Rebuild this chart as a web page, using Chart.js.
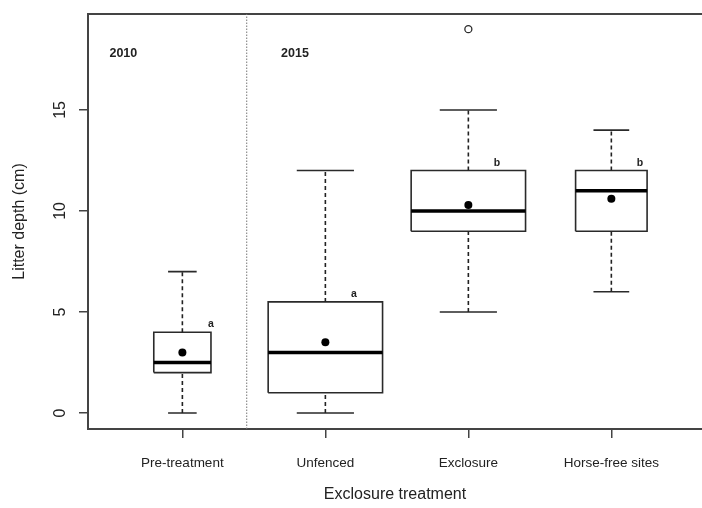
<!DOCTYPE html>
<html>
<head>
<meta charset="utf-8">
<script src="https://cdn.jsdelivr.net/npm/chart.js@4.4.1/dist/chart.umd.min.js"></script>
<style>
  html, body { margin: 0; padding: 0; background: #fff; overflow: hidden; }
  #wrap { width: 702px; height: 508px; }
</style>
</head>
<body>
<div id="wrap"><canvas id="chart" width="702" height="508"></canvas></div>
<script>
// Box plot statistics (cm)
const categories = ['Pre-treatment', 'Unfenced', 'Exclosure', 'Horse-free sites'];
const whiskerLow = [0, 0, 5, 6];
const q1 = [2, 1, 9, 9];
const median = [2.5, 3, 10, 11];
const q3 = [4, 5.5, 12, 12];
const whiskerHigh = [7, 12, 15, 14];
const means = [3.0, 3.5, 10.3, 10.6];
const outliers = [[], [], [19], []];
const letters = ['a', 'a', 'b', 'b'];
const periods = ['2010', '2015'];
const yTicks = [0, 5, 10, 15];

// Layout (x in category units, R style varwidth boxes)
const boxWidths = [0.4, 0.8, 0.8, 0.5];
const periodX = [0.49, 1.69];
const periodY = 17.62;
const dividerX = 1.45;
const xMin = 0.34, xMax = 4.634;
const yMin = -0.792, yMax = 19.75;

const ink = '#2a2a2a';
const axisColor = '#444';
const fontFamily = "'Liberation Sans', Arial, Helvetica, sans-serif";

function segment(data, extra) {
    return Object.assign({
        data: data,
        showLine: true,
        borderColor: ink,
        borderWidth: 1.6,
        pointRadius: 0,
        pointHoverRadius: 0,
        spanGaps: false,
        order: 2
    }, extra || {});
}

const datasets = [];

// dotted divider between 2010 and 2015
datasets.push(segment([{ x: dividerX, y: yMin }, { x: dividerX, y: yMax }], {
    borderColor: '#777', borderWidth: 1, borderDash: [1.5, 1.5], order: 3
}));

categories.forEach((cat, i) => {
    const c = i + 1;
    const hw = boxWidths[i] / 2;
    const cw = hw / 2;
    // whiskers (dashed)
    datasets.push(segment([
        { x: c, y: whiskerLow[i] }, { x: c, y: q1[i] }, { x: c, y: null },
        { x: c, y: q3[i] }, { x: c, y: whiskerHigh[i] }
    ], { borderDash: [4, 3], borderColor: '#222' }));
    // staples
    datasets.push(segment([
        { x: c - cw, y: whiskerLow[i] }, { x: c + cw, y: whiskerLow[i] }, { x: c, y: null },
        { x: c - cw, y: whiskerHigh[i] }, { x: c + cw, y: whiskerHigh[i] }
    ]));
    // box
    datasets.push(segment([
        { x: c - hw, y: q1[i] }, { x: c + hw, y: q1[i] }, { x: c + hw, y: q3[i] },
        { x: c - hw, y: q3[i] }, { x: c - hw, y: q1[i] }
    ], { borderJoinStyle: 'miter' }));
    // median
    datasets.push(segment([
        { x: c - hw, y: median[i] }, { x: c + hw, y: median[i] }
    ], { borderColor: '#000', borderWidth: 3.5, order: 1 }));
});

// means
datasets.push({
    data: means.map((m, i) => ({ x: i + 1, y: m })),
    showLine: false,
    pointRadius: 4,
    pointHoverRadius: 4,
    pointBackgroundColor: '#000',
    pointBorderWidth: 0,
    order: 0
});

// outliers
datasets.push({
    data: outliers.flatMap((list, i) => list.map(v => ({ x: i + 1, y: v }))),
    showLine: false,
    pointRadius: 3.5,
    pointHoverRadius: 3.5,
    pointBackgroundColor: 'rgba(0,0,0,0)',
    pointBorderColor: ink,
    pointBorderWidth: 1.3,
    order: 0
});

// draws rotated y tick labels, letters and period labels
const textPlugin = {
    id: 'boxText',
    afterDraw(chart) {
        const ctx = chart.ctx;
        const x = chart.scales.x;
        const y = chart.scales.y;
        ctx.save();
        ctx.fillStyle = '#222';

        ctx.font = '16px ' + fontFamily;
        ctx.textAlign = 'center';
        ctx.textBaseline = 'alphabetic';
        yTicks.forEach(v => {
            ctx.save();
            ctx.translate(y.right - 23, y.getPixelForValue(v));
            ctx.rotate(-Math.PI / 2);
            ctx.fillText(String(v), 0, 0);
            ctx.restore();
        });

        ctx.font = 'bold 10.5px ' + fontFamily;
        letters.forEach((l, i) => {
            ctx.fillText(l, x.getPixelForValue(i + 1.2), y.getPixelForValue(q3[i] + 0.25));
        });

        ctx.font = 'bold 12.5px ' + fontFamily;
        ctx.textAlign = 'left';
        periods.forEach((p, k) => {
            ctx.fillText(p, x.getPixelForValue(periodX[k]), y.getPixelForValue(periodY));
        });
        ctx.restore();
    }
};

new Chart(document.getElementById('chart'), {
    type: 'scatter',
    data: { datasets: datasets },
    plugins: [textPlugin],
    options: {
        responsive: false,
        animation: false,
        events: [],
        layout: { padding: 0, autoPadding: false },
        plugins: {
            legend: { display: false },
            tooltip: { enabled: false }
        },
        scales: {
            x: {
                type: 'linear',
                position: 'bottom',
                min: xMin,
                max: xMax,
                afterBuildTicks: s => { s.ticks = categories.map((c, i) => ({ value: i + 1 })); },
                afterFit: s => { s.height = 79; },
                ticks: {
                    callback: v => categories[v - 1],
                    font: { family: fontFamily, size: 13.5 },
                    color: '#222',
                    padding: 17,
                    maxRotation: 0,
                    autoSkip: false
                },
                grid: { drawOnChartArea: false, drawTicks: true, tickLength: 9, color: axisColor, lineWidth: 1.5 },
                border: { display: true, color: axisColor, width: 2 },
                title: {
                    display: true,
                    text: 'Exclosure treatment',
                    font: { family: fontFamily, size: 16 },
                    color: '#222',
                    padding: { top: 0, bottom: 4 }
                }
            },
            xTop: {
                type: 'linear',
                position: 'top',
                min: xMin,
                max: xMax,
                afterFit: s => { s.height = 14; },
                ticks: { display: false },
                grid: { display: false, drawTicks: false },
                border: { display: true, color: axisColor, width: 2 }
            },
            y: {
                type: 'linear',
                min: yMin,
                max: yMax,
                afterBuildTicks: s => { s.ticks = yTicks.map(v => ({ value: v })); },
                afterFit: s => { s.width = 88; },
                ticks: { display: false },
                grid: { drawOnChartArea: false, drawTicks: true, tickLength: 9, color: axisColor, lineWidth: 1.5 },
                border: { display: true, color: axisColor, width: 2 },
                title: {
                    display: true,
                    text: 'Litter depth (cm)',
                    font: { family: fontFamily, size: 16 },
                    color: '#222',
                    padding: { top: 10, bottom: 0 }
                }
            }
        }
    }
});
</script>
</body>
</html>
